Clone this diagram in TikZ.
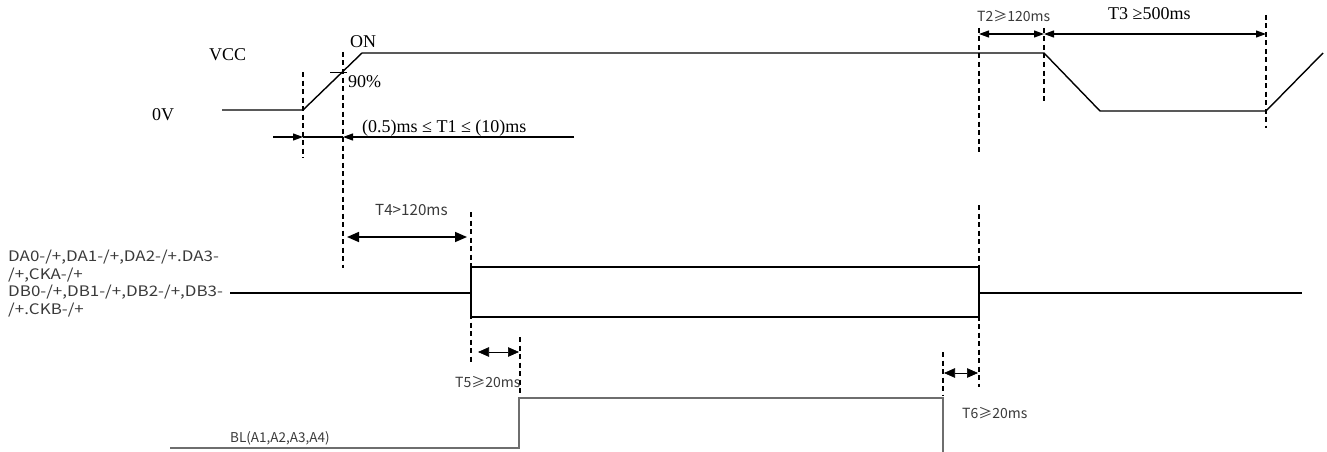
\documentclass[tikz,border=0pt]{standalone}
\usepackage{fontspec}
\setmainfont{Liberation Serif}
\newfontfamily\cjksans{Noto Sans CJK SC}
\newfontfamily\cjkwide[FakeStretch=1.17]{Noto Sans CJK SC}
\usetikzlibrary{arrows.meta}
\definecolor{txtgray}{HTML}{3A3A3A}
\definecolor{siggray}{HTML}{6E6E6E}
\begin{document}
\begin{tikzpicture}[x=1pt,y=-1pt,
  sig/.style={line width=1.4pt, black, line join=miter},
  bls/.style={line width=1.2pt, siggray},
  dsh/.style={line width=1.4pt, dash pattern=on 5pt off 3.5pt},
  dimarr/.style={line width=1.1pt, {Triangle[length=10pt,width=7pt]}-{Triangle[length=10pt,width=7pt]}},
  bigarr/.style={line width=1.6pt, {Triangle[length=12pt,width=10pt]}-{Triangle[length=12pt,width=10pt]}},
  smallarr/.style={line width=0.7pt, {Triangle[length=11pt,width=9.5pt]}-{Triangle[length=11pt,width=9.5pt]}},
  onearr/.style={line width=1.1pt, -{Triangle[length=10pt,width=7pt]}},
  ser/.style={font=\fontsize{18}{20}\selectfont, inner sep=0pt, anchor=base west},
  san/.style={font=\cjksans\fontsize{14}{17}\selectfont, text=txtgray, inner sep=0pt, anchor=base west}]
\useasboundingbox (0,0) rectangle (1327,452);
\fill[white] (0,0) rectangle (1327,452);

% ---------- VCC trace ----------
\coordinate (v0) at (222,110);
\coordinate (v1) at (303,110);
\coordinate (v2) at (362,53);
\coordinate (v3) at (1044,53);
\coordinate (v4) at (1100,111);
\coordinate (v5) at (1266,111);
\coordinate (v6) at (1323,53);
\draw[sig] (v0) -- (v1) -- (v2) -- (v3) -- (v4) -- (v5) -- (v6);
\coordinate (p90a) at (330,72);
\coordinate (p90b) at (347,72);
\draw[line width=1pt] (p90a) -- (p90b);

\node[ser] (vcc) at (209,60) {VCC};
\node[ser] (zero) at (152,120) {0V};
\node[ser] (on) at (350,48) {ON};
\node[ser] (p90) at (348,88) {90\%};
\node[ser] (t1) at (362,132) {(0.5)ms ≤ T1 ≤ (10)ms};
\node[ser] (t3) at (1108,20) {T3 ≥500ms};
\node[san] (t2) at (977,22) {T2≥120ms};

% dashed markers (top)
\coordinate (d1a) at (303,72);  \coordinate (d1b) at (303,158);
\coordinate (d2a) at (343,52);  \coordinate (d2b) at (343,268);
\coordinate (d5a) at (979,28);  \coordinate (d5b) at (979,152);
\coordinate (d5c) at (979,205); \coordinate (d5d) at (979,387);
\coordinate (d6a) at (1044,28); \coordinate (d6b) at (1044,104);
\coordinate (d7a) at (1266,15); \coordinate (d7b) at (1266,128);
\draw[dsh] (d1a) -- (d1b);
\draw[dsh] (d2a) -- (d2b);
\draw[dsh] (d5a) -- (d5b);
\draw[dsh] (d5c) -- (d5d);
\draw[dsh] (d6a) -- (d6b);
\draw[dsh] (d7a) -- (d7b);

% T1
\coordinate (t1l) at (273,137);
\coordinate (t1a) at (303,137);
\coordinate (t1b) at (343,137);
\coordinate (t1r) at (574,137);
\draw[onearr] (t1l) -- (t1a);
\draw[line width=1.1pt] (t1a) -- (t1b);
\draw[onearr] (t1r) -- (t1b);

% T2, T3
\coordinate (t2a) at (979,34);
\coordinate (t2b) at (1044,34);
\coordinate (t3b) at (1266,34);
\draw[dimarr] (t2a) -- (t2b);
\draw[dimarr] (t2b) -- (t3b);

% ---------- data lines ----------
\node[san, anchor=north west, align=left, font=\cjkwide\fontsize{14.5}{17.6}\selectfont] (dlab) at (8,250)
  {DA0-/+,DA1-/+,DA2-/+.DA3-\\/+,CKA-/+\\DB0-/+,DB1-/+,DB2-/+,DB3-\\/+.CKB-/+};
\coordinate (s0) at (230,293);
\coordinate (s1) at (471,293);
\coordinate (bx1) at (471,267);
\coordinate (bx2) at (979,317);
\coordinate (s2) at (979,293);
\coordinate (s3) at (1302,293);
\draw[sig] (s0) -- (s1);
\draw[sig] (bx1) rectangle (bx2);
\draw[sig] (s2) -- (s3);

% T4
\coordinate (d3a) at (471,212); \coordinate (d3b) at (471,363);
\draw[dsh] (d3a) -- (d3b);
\coordinate (t4a) at (347,237);
\coordinate (t4b) at (467,237);
\draw[bigarr] (t4a) -- (t4b);
\node[san, font=\cjksans\fontsize{15.2}{17}\selectfont] (t4) at (375,215) {T4>120ms};

% ---------- BL ----------
\coordinate (b0) at (170,448);
\coordinate (b1) at (519,448);
\coordinate (b2) at (519,398);
\coordinate (b3) at (943,398);
\coordinate (b4) at (943,452);
\draw[bls] (b0) -- (b1) -- (b2) -- (b3) -- (b4);
\node[san, font=\cjksans\fontsize{13.5}{17}\selectfont] (bl) at (230,442) {BL(A1,A2,A3,A4)};

% T5
\coordinate (d4a) at (520,337); \coordinate (d4b) at (520,395);
\draw[dsh] (d4a) -- (d4b);
\coordinate (t5a) at (478,352);
\coordinate (t5b) at (519,352);
\draw[smallarr] (t5a) -- (t5b);
\node[san] (t5) at (455,387) {T5≥20ms};

% T6
\coordinate (d8a) at (943,352); \coordinate (d8b) at (943,396);
\draw[dsh] (d8a) -- (d8b);
\coordinate (t6a) at (944,373);
\coordinate (t6b) at (978,373);
\draw[smallarr] (t6a) -- (t6b);
\node[san] (t6) at (962,418) {T6≥20ms};
\end{tikzpicture}
\end{document}
